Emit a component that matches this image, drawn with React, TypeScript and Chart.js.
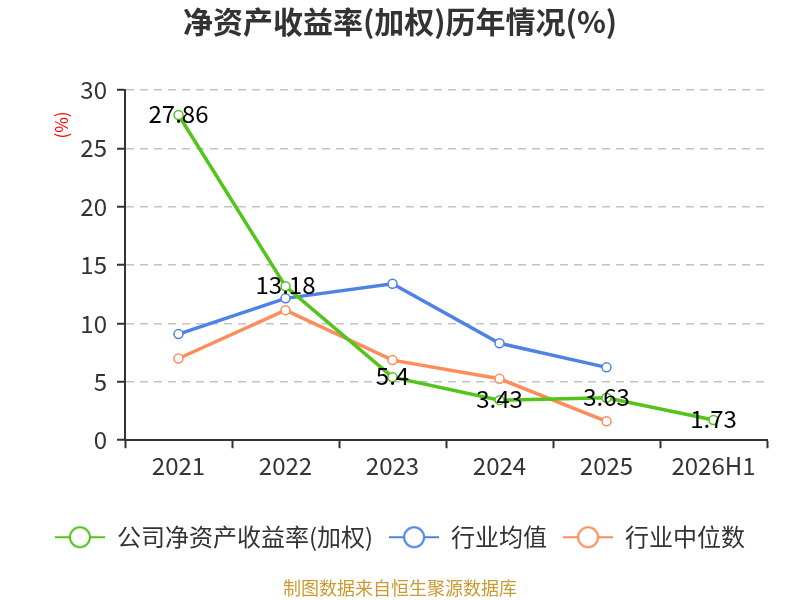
import Chart from "chart.js/auto";
import { useEffect, useRef } from "react";

const categories = ["2021", "2022", "2023", "2024", "2025", "2026H1"];
const companyRoe = [27.86, 13.18, 5.4, 3.43, 3.63, 1.73];
const industryMean = [9.09, 12.15, 13.4, 8.3, 6.24, null];
const industryMedian = [7.0, 11.14, 6.86, 5.26, 1.62, null];
const seriesNames = ["公司净资产收益率(加权)", "行业均值", "行业中位数"];
const seriesColors = ["#52c41a", "#4e82e4", "#ff8c5a"];
const yTicks = [0, 5, 10, 15, 20, 25, 30];

const FONT = "'Noto Sans CJK SC', 'Noto Sans', sans-serif";

function legendIcon(color: string) {
  const c = document.createElement("canvas");
  c.width = 50;
  c.height = 24;
  const ctx = c.getContext("2d")!;
  ctx.strokeStyle = color;
  ctx.lineWidth = 2;
  ctx.beginPath();
  ctx.moveTo(0, 12);
  ctx.lineTo(50, 12);
  ctx.stroke();
  ctx.beginPath();
  ctx.arc(25, 12, 10, 0, Math.PI * 2);
  ctx.fillStyle = "#fff";
  ctx.fill();
  ctx.stroke();
  return c;
}

const extras = {
  id: "extras",
  afterDatasetsDraw(chart: any) {
    const ctx = chart.ctx;
    const meta = chart.getDatasetMeta(0);
    ctx.save();
    ctx.font = `24px ${FONT}`;
    ctx.fillStyle = "#000";
    ctx.textAlign = "center";
    ctx.textBaseline = "middle";
    meta.data.forEach((pt: any, i: number) => {
      ctx.fillText(String(companyRoe[i]), pt.x, pt.y - 1);
    });
    ctx.restore();

    // y axis unit
    ctx.save();
    ctx.translate(62, 125);
    ctx.rotate(-Math.PI / 2);
    ctx.font = `17px ${FONT}`;
    ctx.fillStyle = "#ff0000";
    ctx.textAlign = "center";
    ctx.textBaseline = "middle";
    ctx.fillText("(%)", 0, 0);
    ctx.restore();
  },
};

export default function App() {
  const canvasRef = useRef<HTMLCanvasElement>(null);

  useEffect(() => {
    document.body.style.margin = "0";
    const icons = seriesColors.map(legendIcon);
    const makeSet = (i: number, data: (number | null)[]) => ({
      label: seriesNames[i],
      data,
      borderColor: seriesColors[i],
      backgroundColor: seriesColors[i],
      borderWidth: 3.5,
      pointRadius: 4.5,
      pointHoverRadius: 4.5,
      pointBorderWidth: 1.5,
      pointBackgroundColor: "#fff",
      pointBorderColor: seriesColors[i],
      tension: 0,
    });

    const chart = new Chart(canvasRef.current!, {
      type: "line",
      data: {
        labels: categories,
        datasets: [makeSet(0, companyRoe), makeSet(1, industryMean), makeSet(2, industryMedian)],
      },
      options: {
        animation: false,
        responsive: true,
        maintainAspectRatio: false,
        layout: { padding: { left: 33, right: 33, top: 0, bottom: 0 } },
        plugins: {
          tooltip: { enabled: false },
          title: {
            display: true,
            text: "净资产收益率(加权)历年情况(%)",
            color: "#333",
            font: { family: FONT, size: 30, weight: "bold" },
            padding: { top: 4, bottom: 50 },
          },
          subtitle: {
            display: true,
            position: "bottom",
            text: "制图数据来自恒生聚源数据库",
            color: "#cc9a33",
            font: { family: FONT, size: 18 },
            padding: { top: 18, bottom: 1.2 },
          },
          legend: {
            position: "bottom",
            labels: {
              usePointStyle: true,
              pointStyleWidth: 50,
              padding: 16,
              color: "#333",
              font: { family: FONT, size: 24 },
              generateLabels(c: any) {
                const items = Chart.defaults.plugins.legend.labels.generateLabels(c);
                return items.map((it: any, i: number) => ({ ...it, pointStyle: icons[i] }));
              },
            },
          },
        },
        scales: {
          x: {
            offset: true,
            grid: {
              offset: true,
              drawOnChartArea: false,
              tickLength: 8,
              tickColor: "#333",
              tickWidth: 2,
            },
            border: { color: "#333", width: 2 },
            ticks: { color: "#333", padding: 3, font: { family: FONT, size: 24 } },
            afterFit(scale: any) {
              scale.height = 69;
            },
          },
          y: {
            min: 0,
            max: 30,
            afterBuildTicks(scale: any) {
              scale.ticks = yTicks.map((v) => ({ value: v }));
            },
            grid: {
              color: "#c4c4c4",
              lineWidth: 1.5,
              tickLength: 8,
              tickColor: "#333",
              tickWidth: 2,
              tickBorderDash: [],
            },
            border: { color: "#333", width: 2, dash: [8, 6] },
            ticks: { color: "#333", padding: 10, font: { family: FONT, size: 24 } },
            afterFit(scale: any) {
              scale.width = 92;
            },
          },
        },
      },
      plugins: [extras],
    });

    return () => chart.destroy();
  }, []);

  return (
    <div style={{ width: 800, height: 600, position: "relative" }}>
      <canvas ref={canvasRef}></canvas>
    </div>
  );
}
